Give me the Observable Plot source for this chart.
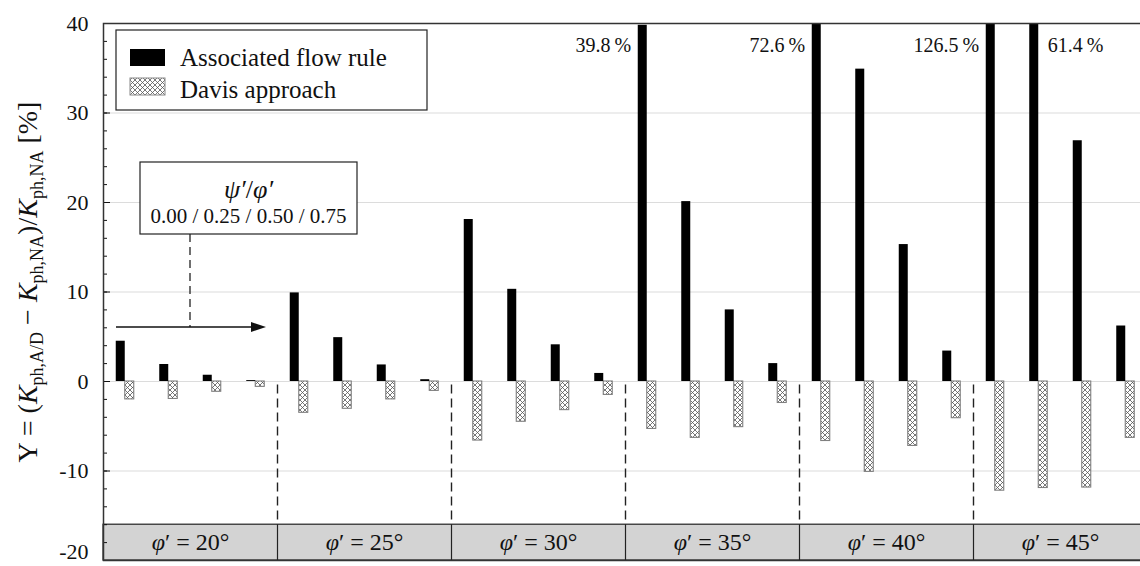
<!DOCTYPE html>
<html><head><meta charset="utf-8">
<script src="https://cdn.jsdelivr.net/npm/d3@7"></script>
<script src="https://cdn.jsdelivr.net/npm/@observablehq/plot@0.6"></script>
<style>
html,body{margin:0;padding:0;overflow:hidden;background:#fff;}
svg{max-width:none !important;}
</style></head><body><div id="chart"></div>
<script>
// ---- data ----
const frictionAngles = [20, 25, 30, 35, 40, 45];
const dilatancyRatios = ["0.00", "0.25", "0.50", "0.75"];
const associatedFlow = [4.5, 1.9, 0.7, 0.1,  9.9, 4.9, 1.85, 0.2,  18.1, 10.3, 4.1, 0.9,  39.8, 20.1, 8.0, 2.0,  72.6, 34.9, 15.3, 3.4,  126.5, 61.4, 26.9, 6.2];
const davisApproach = [-2.0, -1.95, -1.15, -0.6,  -3.5, -3.05, -2.0, -1.05,  -6.6, -4.5, -3.2, -1.5,  -5.3, -6.3, -5.1, -2.4,  -6.65, -10.1, -7.2, -4.1,  -12.2, -11.9, -11.85, -6.3];
const yTicks = [-20, -10, 0, 10, 20, 30, 40];
const minorTicks = d3.range(-20, 41, 2);
const gridValues = [-10, 0, 10, 20, 30];
const bandRange = [-20, -16];
const overflowSide = ["left", "left", "left", "right"];
const legendLabels = ["Associated flow rule", "Davis approach"];
const yLimit = 40;

// ---- table ----
const rows = [];
frictionAngles.forEach((phi, g) => dilatancyRatios.forEach((r, s) => {
  const i = g * 4 + s;
  rows.push({phi, ratio: r, slot: i, assoc: associatedFlow[i], davis: davisApproach[i]});
}));
const overflow = rows.filter(d => d.assoc > yLimit - 0.5).map((d, k) => ({...d, side: overflowSide[k]}));
const boundaries = frictionAngles.slice(1).map((_, g) => (g + 1) * 4);

const serif = "'Liberation Serif', 'DejaVu Serif', serif";
const W = 1148, H = 566, ML = 103, MR = 1, MT = 23, MB = 6;
const nSlots = rows.length;
const barW = 9, slotW = (W - ML - MR) / nSlots;
const half = slotW / 2;

const defs = () => {
  const d = d3.create("svg:defs");
  const p = d.append("pattern").attr("id", "hatch").attr("patternUnits", "userSpaceOnUse")
    .attr("width", 5).attr("height", 5);
  p.append("rect").attr("width", 5).attr("height", 5).attr("fill", "white");
  p.append("path").attr("d", "M0,0L5,5M5,0L0,5M-1,4L1,6M4,-1L6,1M4,6L6,4M-1,1L1,-1")
    .attr("stroke", "#555").attr("stroke-width", 0.8);
  return d.node();
};

const plot = Plot.plot({
  width: W, height: H,
  marginLeft: ML, marginRight: MR, marginTop: MT, marginBottom: MB,
  style: {fontFamily: serif, fontSize: "22px", color: "#111", background: "white", overflow: "visible", maxWidth: "none"},
  x: {domain: [0, nSlots], axis: null},
  y: {domain: [bandRange[0], yLimit], label: null},
  marks: [
    defs,
    Plot.ruleY(gridValues, {stroke: "#dcdcdc", strokeWidth: 1.2}),
    Plot.rect(rows, {x1: "slot", x2: d => d.slot + 1, y1: 0, y2: "davis", fill: "url(#hatch)",
      stroke: "#808080", strokeWidth: 1.1, insetLeft: half, insetRight: half - barW}),
    Plot.rect(rows, {x1: "slot", x2: d => d.slot + 1, y1: 0, y2: "assoc", fill: "black",
      insetLeft: half - barW, insetRight: half, clip: true}),
    Plot.ruleX(boundaries, {y1: -0.4, y2: bandRange[1], stroke: "#222", strokeWidth: 1.4, strokeDasharray: "9,5"}),
    Plot.rect([bandRange], {x1: 0, x2: nSlots, y1: d => d[0], y2: d => d[1], fill: "#d3d3d3", stroke: "#222", strokeWidth: 1.2}),
    Plot.ruleX(boundaries, {y1: bandRange[0], y2: bandRange[1], stroke: "#222", strokeWidth: 1.2}),
    Plot.text(frictionAngles, {x: (d, i) => i * 4 + 2, y: (bandRange[0] + bandRange[1]) / 2,
      text: d => `φ′ = ${d}°`, fontSize: 24, fill: "#111"}),
    Plot.text(overflow.filter(d => d.side === "left"), {x: "slot", frameAnchor: "top", dy: 14,
      text: d => `${d.assoc.toFixed(1)}\u2009%`, textAnchor: "end", dx: half - barW - 7, fontSize: 20, fill: "#111"}),
    Plot.text(overflow.filter(d => d.side === "right"), {x: "slot", frameAnchor: "top", dy: 14,
      text: d => `${d.assoc.toFixed(1)}\u2009%`, textAnchor: "start", dx: half + 9, fontSize: 20, fill: "#111"}),
    Plot.axisY(yTicks.slice(1), {tickSize: 0, tickPadding: 15, tickFormat: d => String(d), fontSize: 22, label: null}),
    Plot.axisY(yTicks.slice(0, 1), {tickSize: 0, tickPadding: 15, tickFormat: d => String(d), fontSize: 22, label: null, dy: -9}),
    Plot.axisY(minorTicks, {tickSize: 4, dx: 4, tickFormat: () => "", label: null}),
    Plot.axisY(yTicks, {tickSize: 7, dx: 7, tickFormat: () => "", label: null}),
    Plot.frame({stroke: "#333", strokeWidth: 1.5})
  ]
});

const svg = d3.select(plot);

// italic phi in band labels
svg.selectAll("text").each(function() {
  const t = d3.select(this);
  const s = t.text();
  if (s.startsWith("φ′")) {
    t.text("");
    t.append("tspan").attr("font-style", "italic").text("φ");
    t.append("tspan").text(s.slice(1));
  }
});

// legend box
const lg = svg.append("g").attr("font-family", serif).attr("font-size", 25).attr("fill", "#111").attr("text-anchor", "start");
lg.append("rect").attr("x", 116).attr("y", 30).attr("width", 311).attr("height", 80)
  .attr("fill", "white").attr("stroke", "#222").attr("stroke-width", 1.2);
lg.append("rect").attr("x", 130).attr("y", 49).attr("width", 35).attr("height", 17).attr("fill", "black");
lg.append("rect").attr("x", 130).attr("y", 78).attr("width", 35).attr("height", 17)
  .attr("fill", "url(#hatch)").attr("stroke", "#888");
lg.append("text").attr("x", 180).attr("y", 66).attr("text-anchor", "start").text(legendLabels[0]);
lg.append("text").attr("x", 180).attr("y", 98).attr("text-anchor", "start").text(legendLabels[1]);

// annotation box
const an = svg.append("g").attr("font-family", serif).attr("fill", "#111");
an.append("rect").attr("x", 140).attr("y", 162).attr("width", 217).attr("height", 72)
  .attr("fill", "white").attr("stroke", "#222").attr("stroke-width", 1.2);
const t1 = an.append("text").attr("x", 248.5).attr("y", 198).attr("text-anchor", "middle").attr("font-size", 26);
t1.append("tspan").attr("font-style", "italic").text("ψ′");
t1.append("tspan").text("/");
t1.append("tspan").attr("font-style", "italic").text("φ′");
an.append("text").attr("x", 248.5).attr("y", 223).attr("text-anchor", "middle").attr("font-size", 21)
  .text(dilatancyRatios.join(" / "));
an.append("line").attr("x1", 190).attr("x2", 190).attr("y1", 234).attr("y2", 327)
  .attr("stroke", "#222").attr("stroke-width", 1.3).attr("stroke-dasharray", "8,5");
an.append("line").attr("x1", 116).attr("x2", 254).attr("y1", 327).attr("y2", 327)
  .attr("stroke", "#111").attr("stroke-width", 1.5);
an.append("path").attr("d", "M266,327L251,322L251,332Z").attr("fill", "#111");

// y label
const yl = svg.append("text").attr("transform", "translate(37,282) rotate(-90)")
  .attr("text-anchor", "middle").attr("font-family", serif).attr("font-size", 28).attr("fill", "#111");
const sub = (txt) => yl.append("tspan").attr("font-size", 18).attr("dy", 6).text(txt);
const back = (txt) => yl.append("tspan").attr("dy", -6).text(txt);
yl.append("tspan").text("Υ = (");
yl.append("tspan").attr("font-style", "italic").text("K");
sub("ph,A/D");
back(" − ");
yl.append("tspan").attr("font-style", "italic").text("K");
sub("ph,NA");
back(")/");
yl.append("tspan").attr("font-style", "italic").text("K");
sub("ph,NA");
back(" [%]");

document.getElementById("chart").appendChild(plot);
</script>
</body></html>
